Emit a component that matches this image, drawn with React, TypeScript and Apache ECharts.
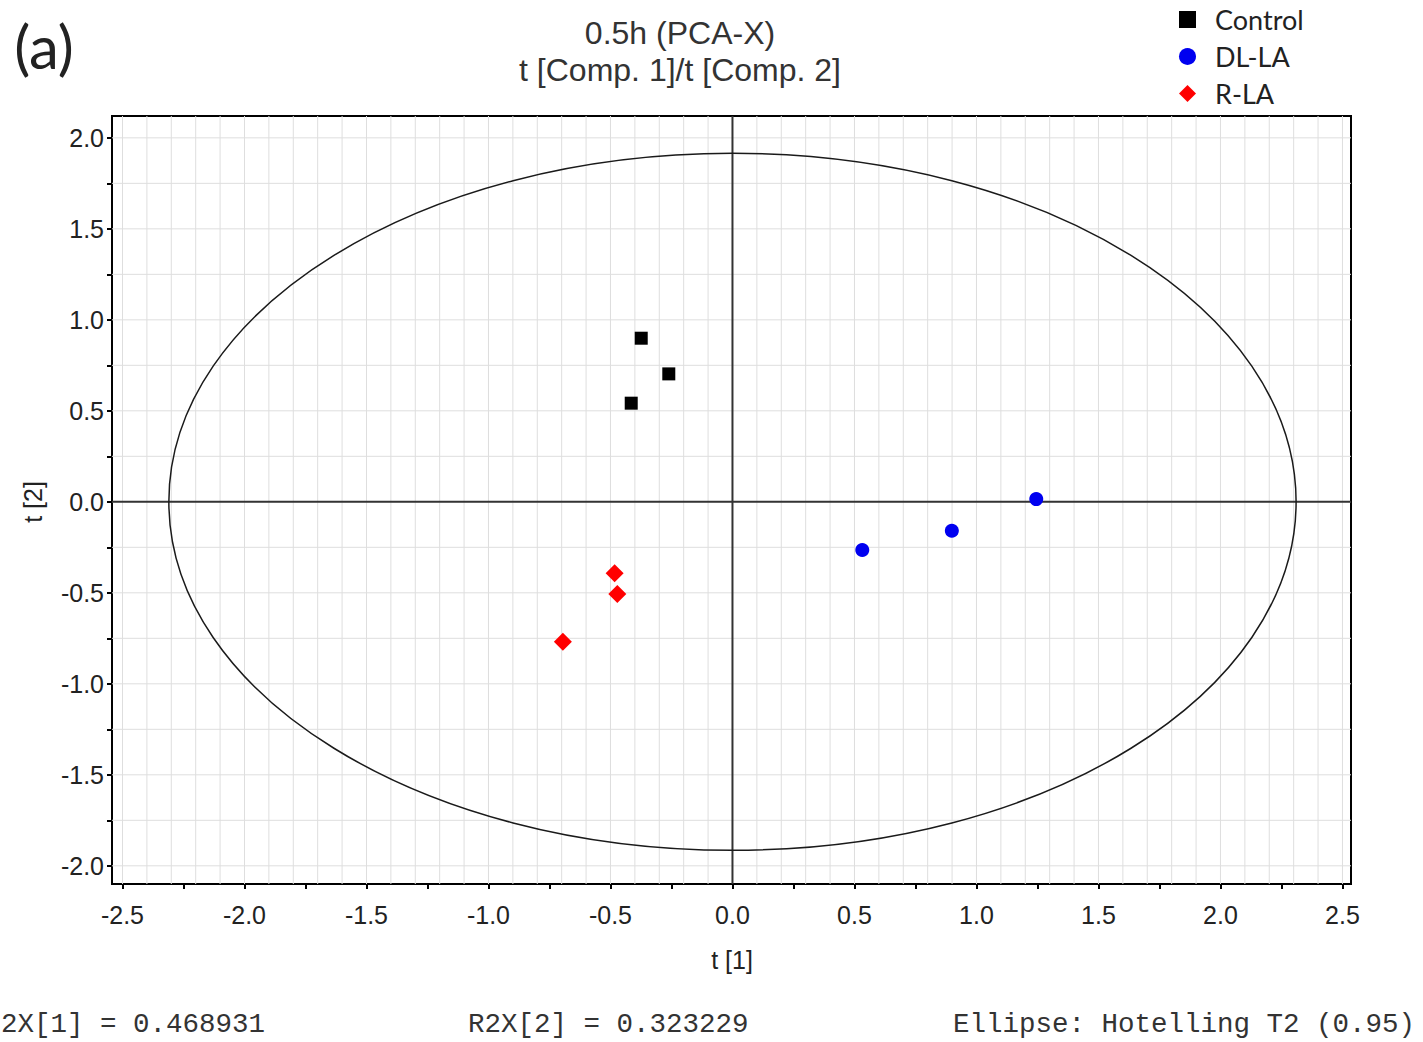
import { useEffect, useRef } from "react";
import * as echarts from "echarts";

// ---- data ----
const controlData = [
  [-0.374, 0.899],
  [-0.261, 0.703],
  [-0.415, 0.542],
];
const dlLaData = [
  [0.532, -0.265],
  [0.899, -0.159],
  [1.245, 0.015],
];
const rLaData = [
  [-0.483, -0.393],
  [-0.472, -0.507],
  [-0.695, -0.769],
];
// Hotelling T2 ellipse: centre x, centre y, semi-axis x, semi-axis y
const ellipseData = [[0, 0, 2.31, 1.915]];

const xTicks = [-2.5, -2.25, -2, -1.75, -1.5, -1.25, -1, -0.75, -0.5, -0.25, 0, 0.25, 0.5, 0.75, 1, 1.25, 1.5, 1.75, 2, 2.25, 2.5];
const xLabels = [-2.5, -2, -1.5, -1, -0.5, 0, 0.5, 1, 1.5, 2, 2.5];
const yTicks = [-2, -1.75, -1.5, -1.25, -1, -0.75, -0.5, -0.25, 0, 0.25, 0.5, 0.75, 1, 1.25, 1.5, 1.75, 2];
const yLabels = [-2, -1.5, -1, -0.5, 0, 0.5, 1, 1.5, 2];
const xGridValues = [
  -2.5, -2.4, -2.3, -2.2, -2.1, -2.0, -1.9, -1.8, -1.7, -1.6, -1.5, -1.4, -1.3, -1.2, -1.1, -1.0,
  -0.9, -0.8, -0.7, -0.6, -0.5, -0.4, -0.3, -0.2, -0.1, 0, 0.1, 0.2, 0.3, 0.4, 0.5, 0.6, 0.7, 0.8,
  0.9, 1.0, 1.1, 1.2, 1.3, 1.4, 1.5, 1.6, 1.7, 1.8, 1.9, 2.0, 2.1, 2.2, 2.3, 2.4, 2.5,
];
const yGridValues = yTicks;
const zeroLines = [[0, 0], [0, 1]]; // [value, direction 0=vertical 1=horizontal]

const legendNames = ["Control", "DL-LA", "R-LA"];
const titleLines = ["0.5h (PCA-X)", "t [Comp. 1]/t [Comp. 2]"];
// the reference crops the first footer text at the left edge; only its visible part is drawn
const footerTexts = ["2X[1] = 0.468931", "R2X[2] = 0.323229", "Ellipse: Hotelling T2 (0.95)"];

const X_MIN = -2.543;
const X_MAX = 2.535;
const Y_MIN = -2.1;
const Y_MAX = 2.12;

const gridLineData = [
  ...xGridValues.map((v) => [v, 0]),
  ...yGridValues.map((v) => [v, 1]),
];

function lineRenderer(color: string, width: number) {
  return (_params: any, api: any) => {
    const v = api.value(0);
    const dir = api.value(1);
    const p1 = dir === 0 ? api.coord([v, Y_MIN]) : api.coord([X_MIN, v]);
    const p2 = dir === 0 ? api.coord([v, Y_MAX]) : api.coord([X_MAX, v]);
    return {
      type: "line",
      shape: { x1: p1[0], y1: p1[1], x2: p2[0], y2: p2[1] },
      style: { stroke: color, lineWidth: width },
      silent: true,
    };
  };
}

export default function App() {
  const ref = useRef<HTMLDivElement>(null);

  useEffect(() => {
    if (!ref.current) return;
    document.body.style.margin = "0";
    const chart = echarts.init(ref.current, null, { renderer: "svg" });
    const axisFont = "Liberation Sans";
    chart.setOption({
      animation: false,
      backgroundColor: "#ffffff",
      grid: {
        left: 112,
        right: 72,
        top: 116,
        bottom: 158,
        show: true,
        borderColor: "#000",
        borderWidth: 2,
        backgroundColor: "transparent",
      },
      xAxis: {
        type: "value",
        min: X_MIN,
        max: X_MAX,
        axisLine: { show: true, onZero: false, lineStyle: { color: "#000", width: 2 } },
        axisTick: { show: true, customValues: xTicks, length: 5, lineStyle: { color: "#000", width: 2 } },
        axisLabel: {
          customValues: xLabels,
          formatter: (v: number) => v.toFixed(1),
          color: "#222",
          fontFamily: axisFont,
          fontSize: 25,
          margin: 18,
        },
        splitLine: { show: false },
      },
      yAxis: {
        type: "value",
        min: Y_MIN,
        max: Y_MAX,
        axisLine: { show: true, onZero: false, lineStyle: { color: "#000", width: 2 } },
        axisTick: { show: true, customValues: yTicks, length: 5, lineStyle: { color: "#000", width: 2 } },
        axisLabel: {
          customValues: yLabels,
          formatter: (v: number) => v.toFixed(1),
          color: "#222",
          fontFamily: axisFont,
          fontSize: 25,
          margin: 8,
        },
        splitLine: { show: false },
      },
      legend: {
        orient: "vertical",
        left: 1174,
        top: 1,
        itemWidth: 17,
        itemHeight: 17,
        itemGap: 10,
        data: [
          { name: legendNames[0], icon: "rect" },
          { name: legendNames[1], icon: "circle" },
          { name: legendNames[2], icon: "diamond" },
        ],
        textStyle: {
          fontFamily: "Lato",
          fontSize: 27,
          lineHeight: 27,
          color: "#222",
          padding: [0, 0, 0, 14],
        },
      },
      series: [
        {
          type: "custom",
          name: "grid",
          silent: true,
          z: 1,
          clip: false,
          renderItem: lineRenderer("#dedede", 1),
          data: gridLineData,
        },
        {
          type: "custom",
          name: "zero",
          silent: true,
          z: 2,
          renderItem: lineRenderer("#333", 2),
          data: zeroLines,
        },
        {
          type: "custom",
          name: "ellipse",
          silent: true,
          z: 3,
          renderItem: (_params: any, api: any) => {
            const c = api.coord([api.value(0), api.value(1)]);
            const s = api.size([api.value(2), api.value(3)]);
            return {
              type: "ellipse",
              shape: { cx: c[0], cy: c[1], rx: s[0], ry: s[1] },
              style: { fill: "none", stroke: "#1a1a1a", lineWidth: 1.5 },
            };
          },
          data: ellipseData,
        },
        {
          type: "scatter",
          name: legendNames[0],
          symbol: "rect",
          symbolSize: 13,
          itemStyle: { color: "#000000", opacity: 1 },
          z: 5,
          data: controlData,
        },
        {
          type: "scatter",
          name: legendNames[1],
          symbol: "circle",
          symbolSize: 14,
          itemStyle: { color: "#0000f0", opacity: 1 },
          z: 5,
          data: dlLaData,
        },
        {
          type: "scatter",
          name: legendNames[2],
          symbol: "diamond",
          symbolSize: 18,
          itemStyle: { color: "#ff0000", opacity: 1 },
          z: 5,
          data: rLaData,
        },
      ],
      graphic: [
        {
          type: "text",
          x: 44,
          y: 46,
          style: { text: "(a)", font: "60px Lato", fill: "#222", align: "center", verticalAlign: "middle" },
        },
        {
          type: "text",
          x: 680,
          y: 33,
          style: { text: titleLines[0], font: "32px 'Liberation Sans'", fill: "#333", align: "center", verticalAlign: "middle" },
        },
        {
          type: "text",
          x: 680,
          y: 70,
          style: { text: titleLines[1], font: "32px 'Liberation Sans'", fill: "#333", align: "center", verticalAlign: "middle" },
        },
        {
          type: "text",
          x: 732,
          y: 960,
          style: { text: "t [1]", font: "25px 'Liberation Sans'", fill: "#222", align: "center", verticalAlign: "middle" },
        },
        {
          type: "text",
          x: 33,
          y: 502,
          rotation: Math.PI / 2,
          style: { text: "t [2]", font: "25px 'Liberation Sans'", fill: "#222", align: "center", verticalAlign: "middle" },
        },
        {
          type: "text",
          x: 1,
          y: 1024,
          style: { text: footerTexts[0], font: "27.5px 'Liberation Mono'", fill: "#333", align: "left", verticalAlign: "middle" },
        },
        {
          type: "text",
          x: 468,
          y: 1024,
          style: { text: footerTexts[1], font: "27.5px 'Liberation Mono'", fill: "#333", align: "left", verticalAlign: "middle" },
        },
        {
          type: "text",
          x: 953,
          y: 1024,
          style: { text: footerTexts[2], font: "27.5px 'Liberation Mono'", fill: "#333", align: "left", verticalAlign: "middle" },
        },
      ],
    });
    return () => chart.dispose();
  }, []);

  return (
    <div
      ref={ref}
      style={{ position: "fixed", left: 0, top: 0, width: 1423, height: 1042 }}
    />
  );
}
